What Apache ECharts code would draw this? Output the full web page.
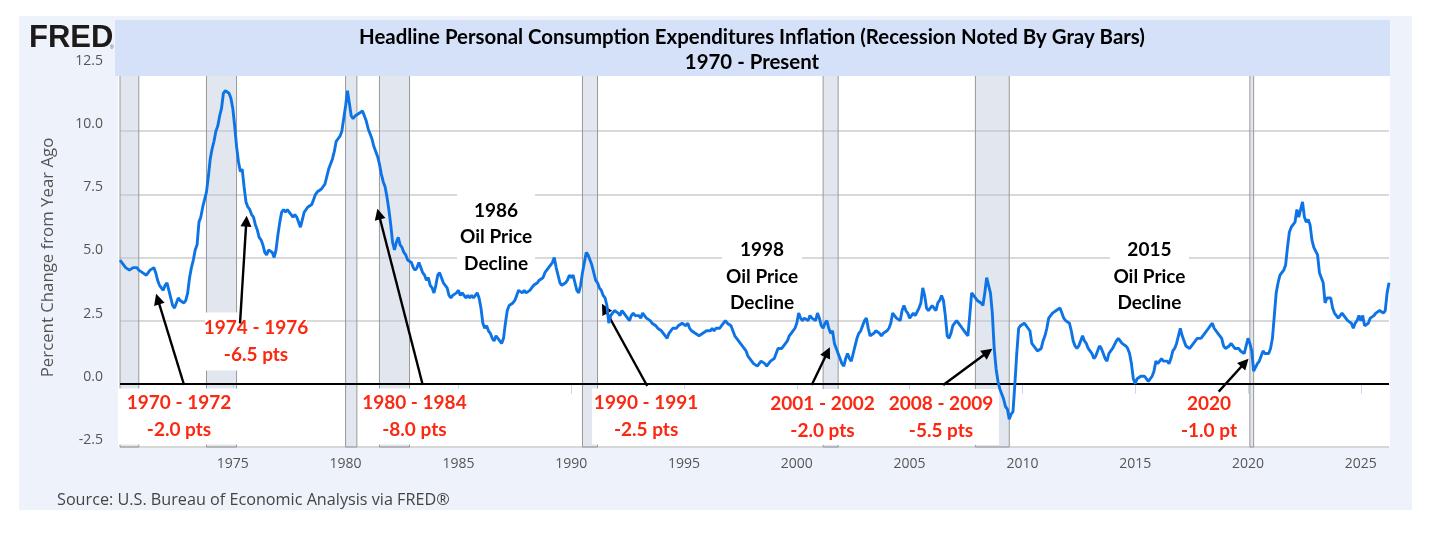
<!DOCTYPE html>
<html>
<head>
<meta charset="utf-8">
<script src="https://cdn.jsdelivr.net/npm/echarts@6/dist/echarts.min.js"></script>
<style>
html,body{margin:0;padding:0;background:#fff;}
#chart{width:1440px;height:534px;}
</style>
</head>
<body>
<div id="chart"></div>
<script>
// ---------------- DATA ----------------
const startYear = 1970; // first value = Jan 1970, monthly, year-over-year % change
const pceYoY = [
// 1970
4.9,4.8,4.7,4.6,4.6,4.5,4.5,4.6,4.6,4.6,4.5,4.5,
// 1971
4.4,4.4,4.3,4.4,4.5,4.5,4.6,4.4,4.1,3.9,3.8,3.7,
// 1972
3.9,4.0,3.7,3.4,3.1,3.0,3.2,3.4,3.3,3.3,3.2,3.3,
// 1973
3.6,4.2,4.6,4.9,5.3,5.5,6.4,6.6,7.0,7.3,7.6,8.2,
// 1974
8.9,9.3,9.6,10.0,10.2,10.6,10.9,11.5,11.6,11.6,11.5,11.3,
// 1975
10.9,10.2,9.4,8.8,8.4,8.5,7.8,7.2,7.0,6.9,6.7,6.6,
// 1976
6.3,6.1,5.8,5.7,5.5,5.2,5.1,5.3,5.3,5.2,5.0,5.3,
// 1977
5.9,6.4,6.8,6.9,6.8,6.9,6.8,6.7,6.6,6.7,6.6,6.4,
// 1978
6.2,6.5,6.8,6.9,7.0,7.0,7.1,7.3,7.5,7.6,7.6,7.7,
// 1979
7.8,7.9,8.2,8.5,8.7,8.9,9.2,9.6,9.7,9.8,10.0,10.5,
// 1980
11.0,11.6,11.1,10.6,10.5,10.6,10.6,10.7,10.7,10.8,10.6,10.4,
// 1981
10.1,9.9,9.7,9.4,9.2,9.0,8.7,8.3,8.0,7.8,7.4,6.9,
// 1982
6.3,5.6,5.3,5.6,5.8,5.5,5.4,5.2,5.1,4.9,4.9,4.8,
// 1983
4.6,4.5,4.6,4.8,4.6,4.4,4.3,4.1,4.2,3.9,3.8,3.6,
// 1984
3.9,4.3,4.4,4.2,4.0,3.9,3.8,3.5,3.4,3.5,3.5,3.6,
// 1985
3.7,3.5,3.6,3.5,3.4,3.5,3.4,3.5,3.4,3.5,3.6,3.4,
// 1986
3.0,2.4,2.2,2.3,2.1,2.0,1.8,1.7,1.9,1.8,1.7,1.6,
// 1987
1.8,2.4,2.9,3.1,3.1,3.2,3.3,3.5,3.7,3.7,3.6,3.7,
// 1988
3.6,3.6,3.7,3.8,3.9,3.9,4.0,4.1,4.1,4.2,4.4,4.5,
// 1989
4.6,4.7,4.8,5.0,4.6,4.3,4.0,3.9,3.9,4.0,4.1,4.3,
// 1990
4.2,4.3,4.0,3.7,3.6,3.9,4.4,4.8,5.2,5.1,4.9,4.7,
// 1991
4.4,4.1,4.0,3.8,3.7,3.5,3.4,3.1,2.4,2.7,2.8,2.9,
// 1992
2.9,2.8,2.7,2.9,2.8,2.7,2.6,2.5,2.7,2.8,2.7,2.7,
// 1993
2.7,2.6,2.8,2.8,2.6,2.6,2.5,2.4,2.4,2.3,2.2,2.2,
// 1994
2.1,2.0,1.9,1.8,2.0,2.1,2.2,2.2,2.2,2.3,2.3,2.4,
// 1995
2.4,2.3,2.4,2.2,2.1,2.1,2.0,2.0,1.9,1.9,2.0,2.0,
// 1996
2.1,2.1,2.1,2.2,2.1,2.2,2.2,2.2,2.3,2.4,2.5,2.4,
// 1997
2.4,2.3,2.1,1.9,1.8,1.7,1.6,1.5,1.4,1.3,1.1,1.0,
// 1998
0.9,0.8,0.8,0.7,0.8,0.9,0.9,0.8,0.7,0.8,0.9,0.9,
// 1999
1.0,1.2,1.4,1.4,1.4,1.5,1.6,1.7,1.9,2.0,2.1,2.2,
// 2000
2.4,2.8,2.6,2.5,2.6,2.6,2.5,2.7,2.6,2.6,2.5,2.8,
// 2001
2.6,2.3,2.2,2.4,2.5,2.2,2.0,2.1,1.6,1.4,1.2,1.0,
// 2002
0.8,0.7,1.0,1.2,1.0,0.9,1.2,1.5,1.8,2.0,2.1,2.3,
// 2003
2.5,2.6,2.2,1.9,1.9,2.0,2.1,2.1,2.0,1.9,2.0,2.0,
// 2004
2.1,2.2,2.4,2.8,2.8,2.6,2.6,2.5,2.9,3.1,2.9,2.8,
// 2005
2.6,2.6,2.8,2.7,2.7,3.0,3.2,3.8,3.5,3.0,2.9,3.0,
// 2006
3.1,3.0,2.9,3.2,3.3,3.5,3.3,2.7,1.9,1.8,2.0,2.3,
// 2007
2.4,2.5,2.5,2.3,2.2,2.1,2.0,1.9,2.7,3.6,3.5,3.5,
// 2008
3.3,3.3,3.2,3.1,3.6,4.2,3.9,3.6,2.8,1.4,0.6,0.1,
// 2009
-0.2,-0.4,-0.6,-0.9,-1.0,-1.4,-1.2,-1.1,0.0,1.2,2.2,2.3,
// 2010
2.3,2.4,2.3,2.2,2.1,1.6,1.5,1.4,1.3,1.3,1.4,1.7,
// 2011
1.9,2.2,2.6,2.7,2.8,2.8,2.9,2.9,3.0,2.8,2.6,2.5,
// 2012
2.5,2.4,2.1,1.7,1.5,1.4,1.5,1.7,1.9,1.7,1.6,1.4,
// 2013
1.4,1.2,1.0,1.1,1.3,1.5,1.4,1.2,1.0,0.9,1.2,1.3,
// 2014
1.4,1.4,1.7,1.8,1.7,1.6,1.6,1.5,1.4,1.2,0.8,0.2,
// 2015
0.0,0.2,0.2,0.3,0.3,0.3,0.2,0.1,0.1,0.3,0.5,0.9,
// 2016
0.8,0.8,1.0,0.9,0.9,0.9,0.8,1.0,1.3,1.4,1.6,1.9,
// 2017
2.2,1.9,1.7,1.5,1.5,1.4,1.5,1.6,1.6,1.8,1.8,1.8,
// 2018
1.8,2.0,2.0,2.2,2.3,2.4,2.2,2.1,2.0,1.9,1.8,1.5,
// 2019
1.4,1.4,1.5,1.6,1.5,1.4,1.4,1.4,1.3,1.3,1.2,1.5,
// 2020
1.8,1.6,1.3,0.5,0.5,0.8,0.9,1.1,1.3,1.2,1.2,1.2,
// 2021
1.4,1.8,2.7,3.6,4.0,4.3,4.4,4.5,4.7,5.4,6.0,6.2,
// 2022
6.3,6.4,6.9,6.6,6.6,7.2,6.6,6.4,6.5,6.3,5.7,5.4,
// 2023
5.4,5.1,4.4,4.4,4.0,3.2,3.4,3.4,3.4,3.0,2.8,2.7,
// 2024
2.6,2.6,2.8,2.8,2.6,2.5,2.5,2.4,2.2,2.4,2.5,2.7,
// 2025
2.5,2.7,2.3,2.3,2.4,2.6,2.6,2.7,2.8,2.8,2.9,2.9,
// 2026
2.8,2.9,3.6,4.0
];

// recessions (first and last month shaded)
const recessionStart = ['1970-01','1973-11','1980-01','1981-07','1990-07','2001-03','2007-12','2020-02'];
const recessionEnd   = ['1970-11','1975-03','1980-07','1982-11','1991-03','2001-11','2009-06','2020-04'];

// axis ticks
const yTicks = [-2.5, 0, 2.5, 5, 7.5, 10, 12.5];
const xTickStep = 5;

// annotation texts, anchored in data units [year, percent]
const noteTexts = [
  '1970 - 1972\n-2.0 pts',
  '1974 - 1976\n-6.5 pts',
  '1980 - 1984\n-8.0 pts',
  '1990 - 1991\n-2.5 pts',
  '2001 - 2002\n-2.0 pts',
  '2008 - 2009\n-5.5 pts',
  '2020\n-1.0 pt',
  '1986\nOil Price\nDecline',
  '1998\nOil Price\nDecline',
  '2015\nOil Price\nDecline'
];
const noteAnchors = [
  [1972.615,-1.294],[1976.03,1.674],[1983.05,-1.294],[1993.32,-1.294],
  [2001.14,-1.314],[2006.39,-1.314],[2018.27,-1.314],
  [1986.67,5.81],[1998.46,4.246],[2015.63,4.246]
];
// arrows, tail -> head, data units
const arrowTails = [[1972.84,-0.047],[1975.32,2.39],[1983.42,-0.047],[1993.37,-0.087],[2000.66,-0.047],[2006.49,-0.047],[2018.70,-0.31]];
const arrowHeads = [[1971.673,3.356],[1975.60,6.44],[1981.47,6.72],[1991.48,2.98],[2001.36,1.25],[2008.47,1.26],[2019.86,0.835]];

// ---------------- STYLE (not data) ----------------
const noteBoxW = [122,102,112,108,115,116,66,78,80,79];
const noteBoxPad = [1,2,1,1,1,1,1,6,2,2];
const noteKind = ['red','red','red','red','red','red','red','black','black','black'];

const ym = s => { const p = s.split('-'); return +p[0] + (+p[1]-1)/12; };
const lastX = startYear + (pceYoY.length-1)/12;
const lineData = pceYoY.map((v,i)=>[startYear + i/12, v]);

const axisFont = '"Open Sans", "Noto Sans", sans-serif';
const noteFont = 'Lato, "Open Sans", sans-serif';

const chart = echarts.init(document.getElementById('chart'), null, {renderer:'canvas'});
chart.setOption({
  animation: false,
  backgroundColor: '#ffffff',
  grid: {left: 120, right: 51, top: 68, bottom: 87},
  graphic: [
    {type:'rect', z:-10, shape:{x:19,y:16,width:1393,height:494}, style:{fill:'#eef3fb'}},
    {type:'rect', z:-9, shape:{x:118,y:68,width:1272,height:379}, style:{fill:'#ffffff'}},
    {type:'rect', z:100, shape:{x:115,y:20,width:1275,height:56}, style:{fill:'#d4e1f9'}},
    {type:'text', z:101, style:{x:752, y:37, text:'Headline Personal Consumption Expenditures Inflation (Recession Noted By Gray Bars)', textAlign:'center', textVerticalAlign:'middle', font:'bold 20.4px Lato, sans-serif', fill:'#000'}},
    {type:'text', z:101, style:{x:752, y:62, text:'1970 - Present', textAlign:'center', textVerticalAlign:'middle', font:'bold 20.4px Lato, sans-serif', fill:'#000'}},
    {type:'text', z:101, style:{x:29, y:38.5, text:'FRED', textAlign:'left', textVerticalAlign:'middle', font:'bold 31px "Liberation Sans", Arial, sans-serif', fill:'#1e1a1a'}},
    {type:'text', z:101, style:{x:110, y:48, text:'®', textAlign:'left', textVerticalAlign:'middle', font:'5px sans-serif', fill:'#555'}},
    {type:'text', z:101, style:{x:57, y:500, text:'Source: U.S. Bureau of Economic Analysis via FRED®', textAlign:'left', textVerticalAlign:'middle', font:'16.2px "Open Sans", sans-serif', fill:'#444'}}
  ],
  xAxis: {
    type:'value', min:startYear, max:lastX, interval:xTickStep,
    axisLine:{show:true, lineStyle:{color:'#ccd6eb', width:1}},
    axisTick:{show:true, length:10, lineStyle:{color:'#ccd6eb'}},
    axisLabel:{show:true, margin:10, color:'#555', fontSize:14, fontFamily:axisFont, showMinLabel:false, showMaxLabel:false,
      formatter: v => (Math.abs(v % xTickStep) < 1e-6 && v > startYear) ? String(Math.round(v)) : ''},
    splitLine:{show:false}
  },
  yAxis: {
    type:'value', min:yTicks[0], max:yTicks[yTicks.length-1], interval:2.5,
    name:'Percent Change from Year Ago', nameLocation:'middle', nameGap:63, nameRotate:90,
    nameTextStyle:{color:'#555', fontSize:16.8, fontFamily:axisFont},
    axisLine:{show:false}, axisTick:{show:false},
    axisLabel:{color:'#555', fontSize:14, fontFamily:axisFont, margin:17, verticalAlign:'bottom', formatter: v => v.toFixed(1)},
    splitLine:{show:true, lineStyle:{color:'#cccccc', width:1.5}}
  },
  series: [
    { // recession shading + zero line
      type:'line', data:[], z:1, silent:true,
      markArea:{silent:true, itemStyle:{color:'rgba(190,201,220,0.45)', borderColor:'#999', borderWidth:1},
        data: recessionStart.map((s,i)=>[{xAxis:ym(s)},{xAxis:ym(recessionEnd[i])}])},
      markLine:{silent:true, symbol:'none', label:{show:false}, lineStyle:{color:'#000', width:2, type:'solid'},
        data:[{yAxis:0}]}
    },
    { // annotation boxes
      type:'scatter', z:4, silent:true, symbolSize:1, itemStyle:{color:'transparent', opacity:1},
      data: noteAnchors.map((p,i)=>({
        value:p,
        label:{show:true, position:'inside', formatter:noteTexts[i], width:noteBoxW[i], padding:[noteBoxPad[i],0],
          align:'center', verticalAlign:'middle', opacity:1,
          backgroundColor:'#ffffff', fontFamily:noteFont, fontWeight:'bold', fontSize:19,
          lineHeight: noteKind[i]==='red' ? 27 : 26.5,
          color: noteKind[i]==='red' ? '#fb2812' : '#000000'}
      }))
    },
    { // PCE line
      type:'line', z:5, data:lineData, showSymbol:false, symbol:'none', silent:true,
      lineStyle:{color:'#0e74e6', width:2.9}
    },
    { // arrows
      type:'line', data:[], z:6, silent:true,
      markLine:{silent:true, symbol:['none','triangle'], symbolSize:11, label:{show:false},
        lineStyle:{color:'#000', width:2.4, type:'solid'},
        data: arrowTails.map((t,i)=>[{coord:t},{coord:arrowHeads[i]}])}
    }
  ]
});
</script>
</body>
</html>
